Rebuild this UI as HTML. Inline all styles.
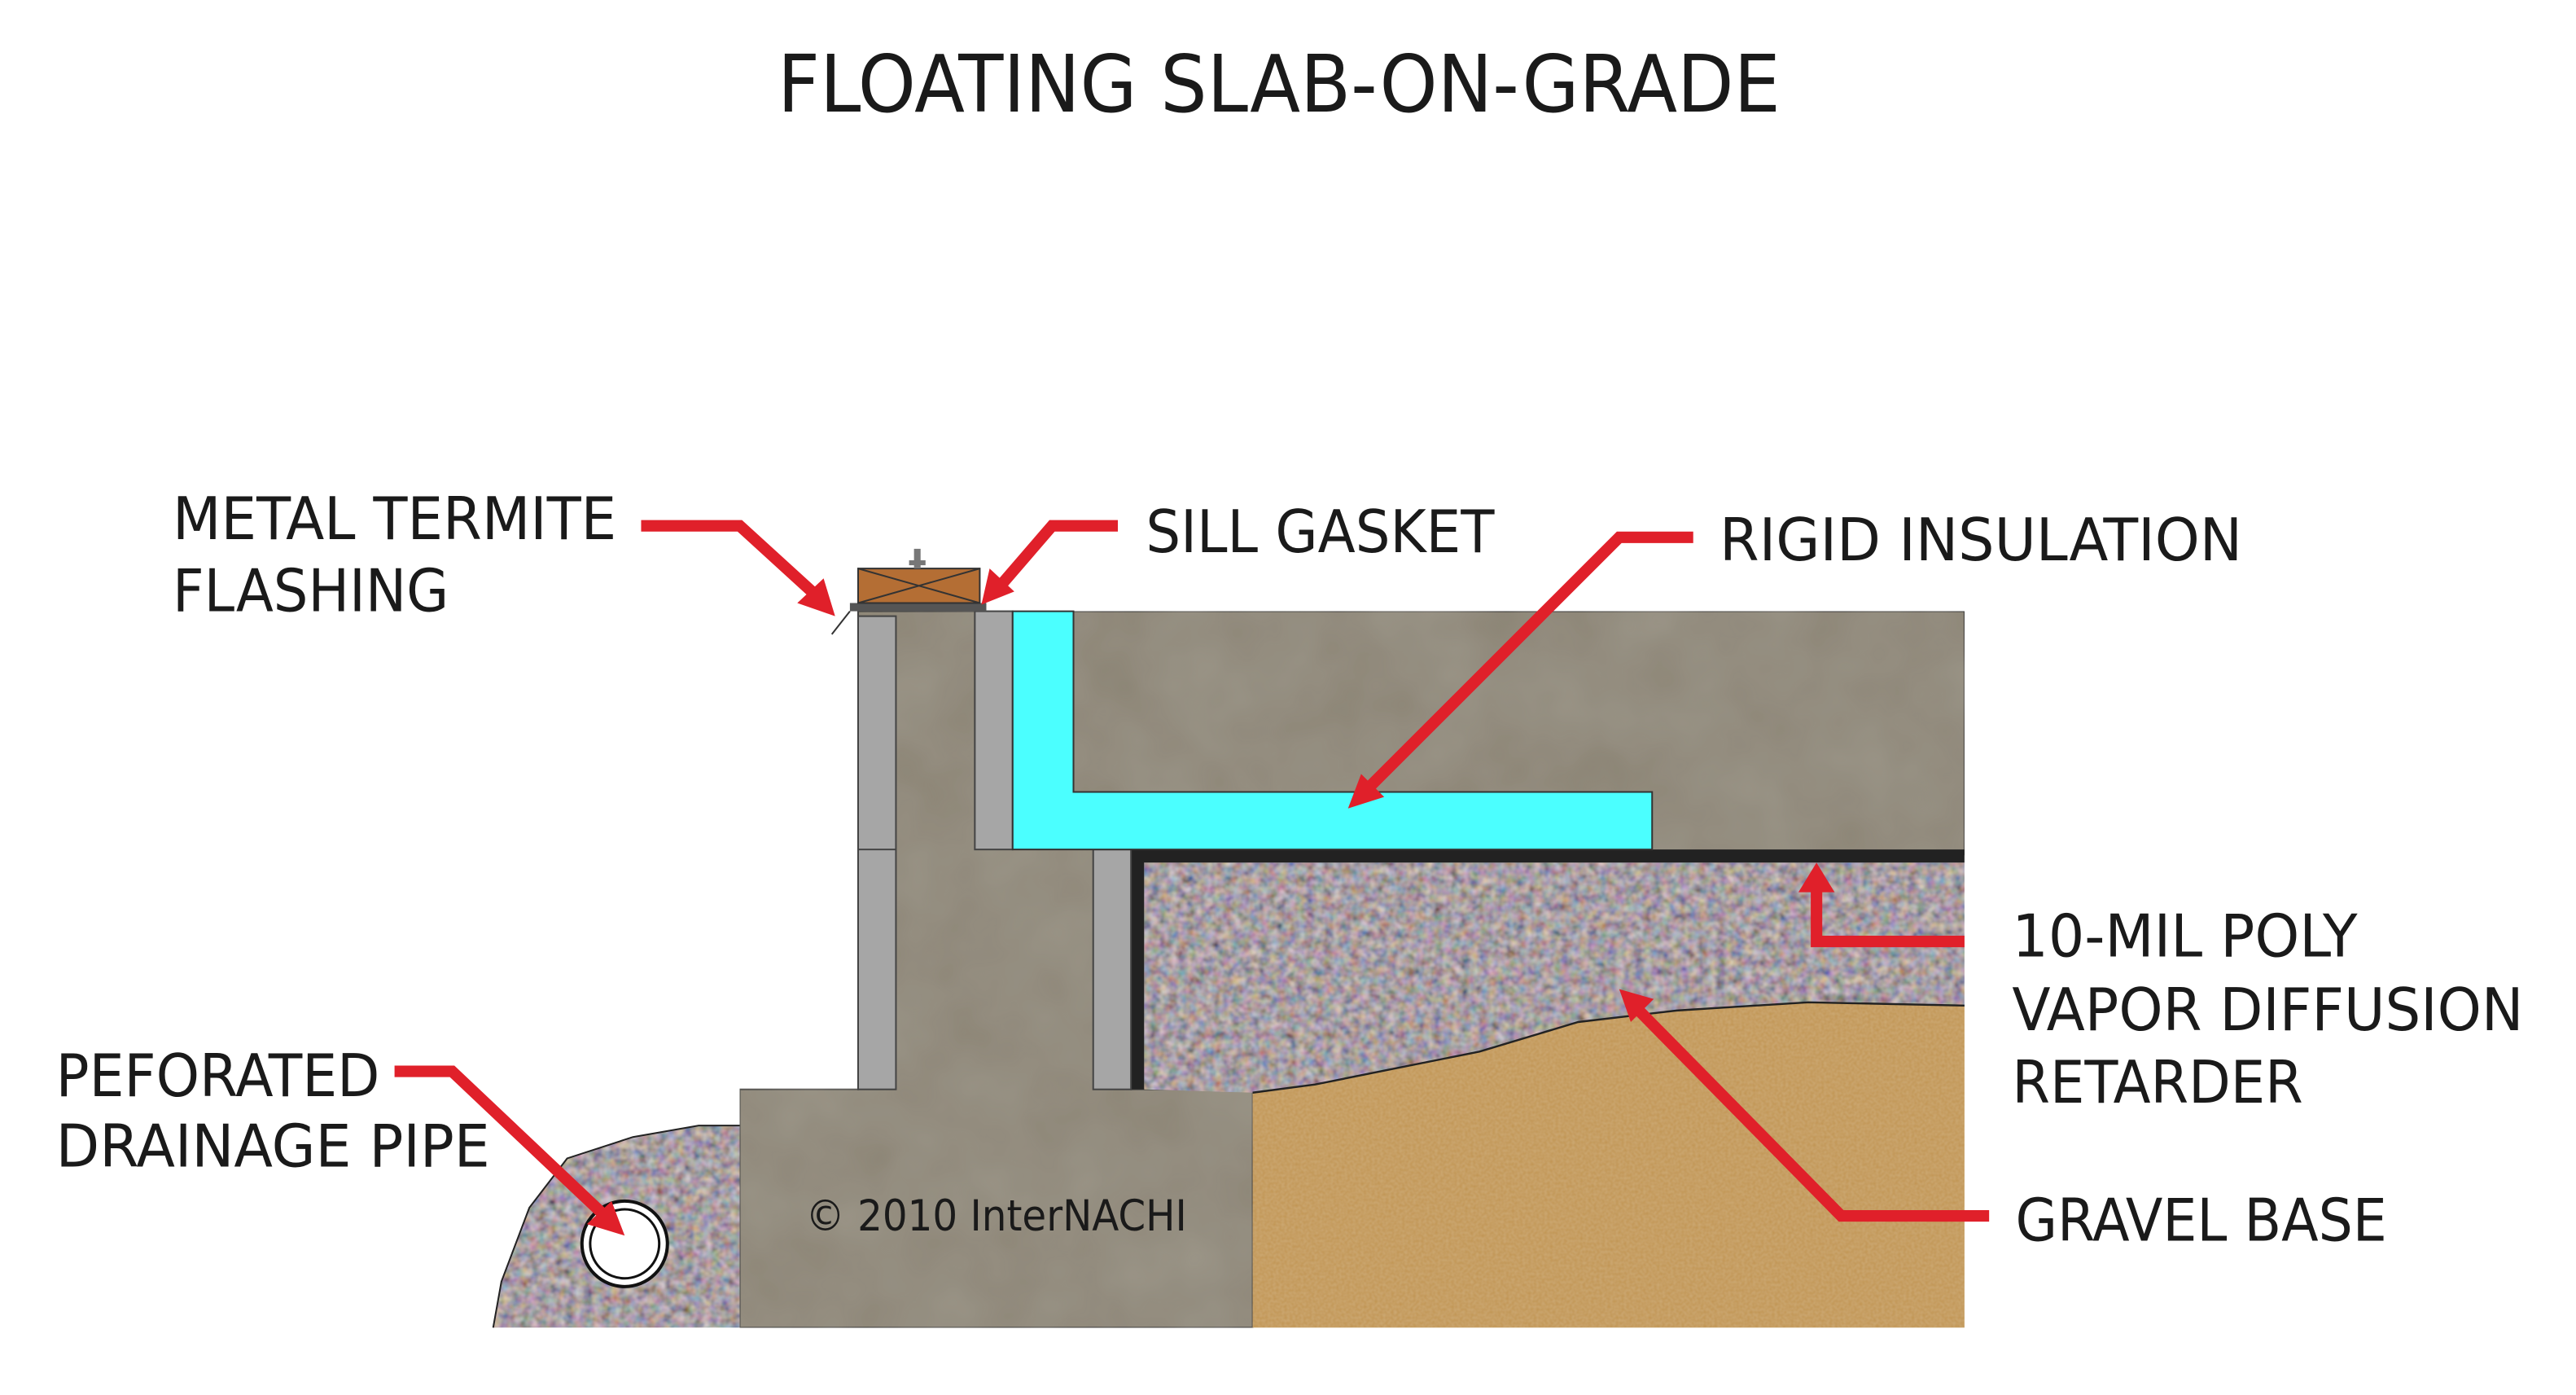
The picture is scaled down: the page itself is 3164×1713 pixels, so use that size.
<!DOCTYPE html>
<html><head><meta charset="utf-8"><style>
html,body{margin:0;padding:0;background:#fff;}
svg{display:block;}
text{font-family:"DejaVu Sans Condensed","Liberation Sans",sans-serif;fill:#1a1a1a;}
</style></head><body>
<svg width="3164" height="1713" viewBox="0 0 1567 849" preserveAspectRatio="none" xmlns="http://www.w3.org/2000/svg">
<defs>
<filter id="grav" x="0" y="0" width="1" height="1">
<feTurbulence type="fractalNoise" baseFrequency="0.18" numOctaves="2" seed="3" result="n"/>
<feColorMatrix in="n" type="matrix" values="0.65 0.25 0 0 -0.06  0.2 0.5 0.1 0 -0.06  0.1 0.2 0.55 0 -0.06  0 0 0 0 1" result="c"/>
<feComposite in="c" in2="SourceGraphic" operator="in"/>
</filter>
<filter id="conc" x="0" y="0" width="1" height="1">
<feTurbulence type="fractalNoise" baseFrequency="0.02" numOctaves="3" seed="5" result="n"/>
<feColorMatrix in="n" type="matrix" values="0 0 0 0 0.5  0 0 0 0 0.47  0 0 0 0 0.42  0.3 0 0 0 0" result="c"/>
<feComposite in="c" in2="SourceGraphic" operator="in" result="cc"/>
<feMerge><feMergeNode in="SourceGraphic"/><feMergeNode in="cc"/></feMerge>
</filter>
<filter id="sand" x="0" y="0" width="1" height="1">
<feTurbulence type="fractalNoise" baseFrequency="0.6" numOctaves="1" seed="8" result="n"/>
<feColorMatrix in="n" type="matrix" values="0 0 0 0 0.70  0 0 0 0 0.52  0 0 0 0 0.28  0.5 0 0 0 0" result="c"/>
<feComposite in="c" in2="SourceGraphic" operator="in" result="cc"/>
<feMerge><feMergeNode in="SourceGraphic"/><feMergeNode in="cc"/></feMerge>
</filter>
</defs>

<text x="778" y="68" font-size="48" text-anchor="middle" textLength="610" lengthAdjust="spacingAndGlyphs">FLOATING SLAB-ON-GRADE</text>

<path d="M300,808 L305,780 L322,735 L345,705 L385,692 L425,685 L450,685 L450,808 Z" fill="#7e7672" filter="url(#grav)"/>
<path d="M300,808 L305,780 L322,735 L345,705 L385,692 L425,685 L450,685" fill="none" stroke="#222" stroke-width="1"/>
<circle cx="380" cy="757" r="26" fill="#fff" stroke="#111" stroke-width="2"/>
<circle cx="380" cy="757" r="21" fill="#fff" stroke="#111" stroke-width="1.5"/>

<path d="M522,372 L1195,372 L1195,520 L688,520 L688,663 L762,663 L762,808 L450,808 L450,663 L522,663 Z" fill="#8b8475" filter="url(#conc)" stroke="#333" stroke-width="1"/>

<path d="M696,525 L1195,525 L1195,612 L1100,610 L1020,615 L960,622 L900,640 L850,650 L800,660 L762,665 L696,663 Z" fill="#807676" filter="url(#grav)"/>
<path d="M762,665 L800,660 L850,650 L900,640 L960,622 L1020,615 L1100,610 L1195,612 L1195,808 L762,808 Z" fill="#c0934f" filter="url(#sand)"/>
<path d="M762,665 L800,660 L850,650 L900,640 L960,622 L1020,615 L1100,610 L1195,612" fill="none" stroke="#222" stroke-width="1.2"/>

<path d="M692,663 L692,521 L1195,521" fill="none" stroke="#222" stroke-width="8"/>

<rect x="522" y="375" width="23" height="288" fill="#a6a6a6" stroke="#444" stroke-width="1"/>
<line x1="522" y1="517" x2="545" y2="517" stroke="#444" stroke-width="1"/>
<rect x="593" y="372" width="23" height="145" fill="#a6a6a6" stroke="#444" stroke-width="1"/>
<rect x="665" y="517" width="23" height="146" fill="#a6a6a6" stroke="#444" stroke-width="1"/>
<path d="M616,372 L653,372 L653,482 L1005,482 L1005,517 L616,517 Z" fill="#4bffff" stroke="#333" stroke-width="1"/>

<rect x="517" y="367" width="83" height="5" fill="#555"/>
<rect x="522" y="346" width="74" height="21" fill="#b46e34" stroke="#333" stroke-width="1"/>
<path d="M522,346 L596,367 M596,346 L522,367" stroke="#333" stroke-width="1"/>
<rect x="556" y="334" width="4" height="12" fill="#777"/>
<rect x="553" y="341" width="10" height="3" fill="#777"/>
<line x1="517" y1="372" x2="506" y2="386" stroke="#333" stroke-width="1"/>

<text x="490" y="749" font-size="26" fill="#222" textLength="232" lengthAdjust="spacingAndGlyphs">© 2010  InterNACHI</text>

<g fill="none" stroke="#e0202a" stroke-width="7">
<path d="M390,320 L450,320 L496,362"/>
<path d="M680,320 L640,320 L609,356"/>
<path d="M1030,327 L985,327 L830,482"/>
<path d="M1195,573 L1105,573 L1105,537"/>
<path d="M1210,740 L1120,740 L995,613"/>
<path d="M240,652 L275,652 L368,740"/>
</g>
<g fill="#e0202a">
<polygon points="508,375 485,367 501,352"/>
<polygon points="597,368 602,346 617,360"/>
<polygon points="820,492 828,471 842,485"/>
<polygon points="1105,525 1094,543 1116,543"/>
<polygon points="985,602 1006,608 992,622"/>
<polygon points="380,752 357,745 372,731"/>
</g>

<g font-size="36">
<text x="105" y="328" textLength="270" lengthAdjust="spacingAndGlyphs">METAL TERMITE</text>
<text x="105" y="372" textLength="168" lengthAdjust="spacingAndGlyphs">FLASHING</text>
<text x="697" y="336" textLength="212" lengthAdjust="spacingAndGlyphs">SILL GASKET</text>
<text x="1046" y="341" textLength="318" lengthAdjust="spacingAndGlyphs">RIGID INSULATION</text>
<text x="1224" y="582" textLength="210" lengthAdjust="spacingAndGlyphs">10-MIL POLY</text>
<text x="1224" y="627" textLength="311" lengthAdjust="spacingAndGlyphs">VAPOR DIFFUSION</text>
<text x="1224" y="671" textLength="177" lengthAdjust="spacingAndGlyphs">RETARDER</text>
<text x="1226" y="755" textLength="226" lengthAdjust="spacingAndGlyphs">GRAVEL BASE</text>
<text x="34" y="667" textLength="197" lengthAdjust="spacingAndGlyphs">PEFORATED</text>
<text x="34" y="710" textLength="264" lengthAdjust="spacingAndGlyphs">DRAINAGE PIPE</text>
</g>
</svg>
</body></html>
